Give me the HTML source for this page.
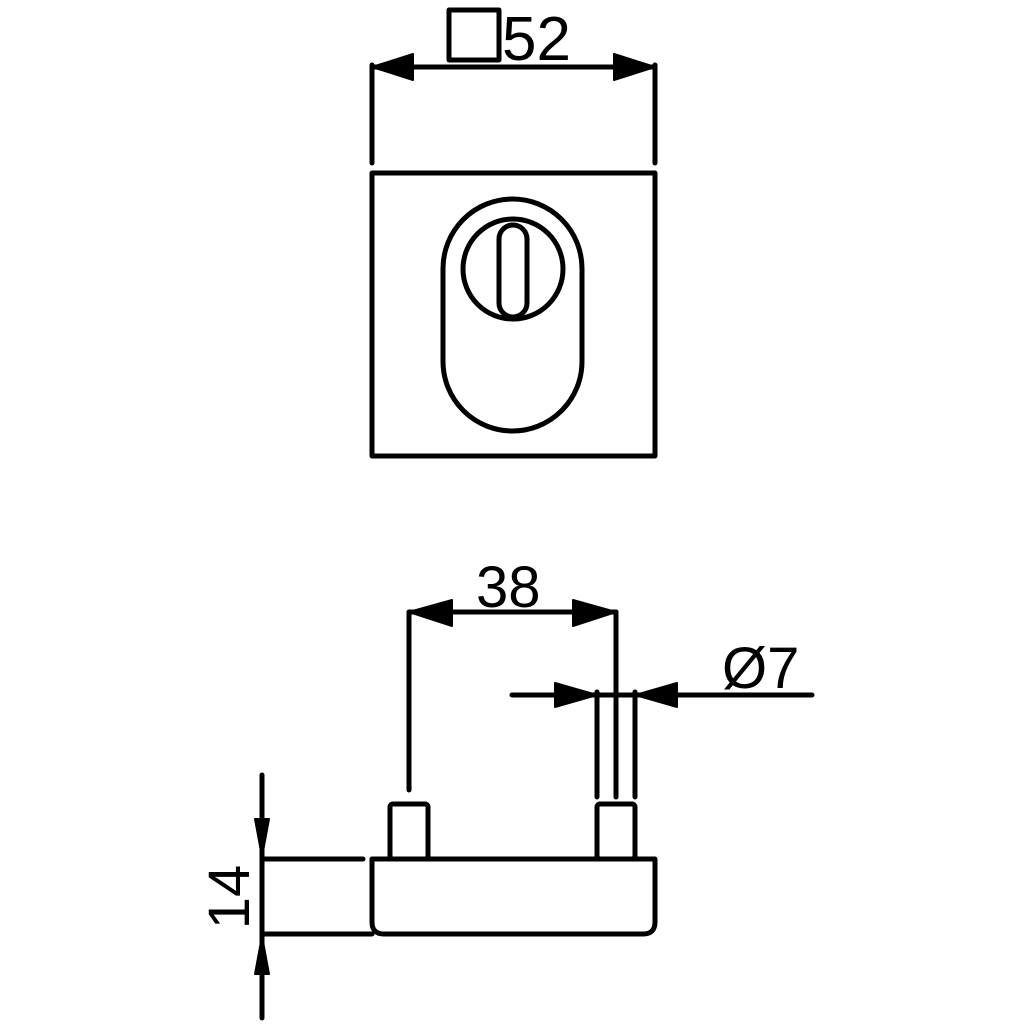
<!DOCTYPE html>
<html><head><style>html,body{margin:0;padding:0;background:#fff}svg{display:block}</style></head>
<body>
<svg width="1024" height="1024" viewBox="0 0 1024 1024" xmlns="http://www.w3.org/2000/svg">
<g fill="none" stroke="#000" stroke-width="5" stroke-linecap="round" stroke-linejoin="round">
<!-- top view -->
<line x1="372" y1="65" x2="372" y2="163"/>
<line x1="655" y1="65" x2="655" y2="163"/>
<line x1="372" y1="67" x2="655" y2="67"/>
<rect x="449" y="10" width="50" height="50"/>
<rect x="372" y="173" width="283" height="283"/>
<rect x="443" y="199" width="139" height="232" rx="69.5" ry="69.5"/>
<circle cx="513" cy="269" r="50"/>
<rect x="499" y="225" width="28" height="92" rx="14" ry="14"/>
<!-- bottom view -->
<line x1="409" y1="612" x2="409" y2="790"/>
<line x1="616" y1="612" x2="616" y2="797"/>
<line x1="409" y1="612" x2="616" y2="612"/>
<line x1="597" y1="692" x2="597" y2="797"/>
<line x1="635" y1="692" x2="635" y2="797"/>
<line x1="512" y1="695" x2="812" y2="695"/>
<rect x="390" y="804" width="38" height="55" rx="3"/>
<rect x="597" y="804" width="38" height="55" rx="3"/>
<path d="M372 859 H655 V922 Q655 934 643 934 H384 Q372 934 372 922 Z"/>
<path d="M363 859 H262 V934 H372"/>
<line x1="262" y1="775" x2="262" y2="859"/>
<line x1="262" y1="934" x2="262" y2="1018"/>
</g>
<g fill="#000" stroke="#000" stroke-width="2" stroke-linejoin="round">
<polygon points="372,67 413,54 413,80"/>
<polygon points="655,67 614,54 614,80"/>
<polygon points="409,612 452,600 452,626"/>
<polygon points="616,612 573,600 573,626"/>
<polygon points="597,695 555,683 555,707"/>
<polygon points="635,695 677,683 677,707"/>
<polygon points="262,857 255,819 269,819"/>
<polygon points="262,936 255,974 269,974"/>
</g>
<g font-family="Liberation Sans, sans-serif" fill="#000">
<text x="502" y="60" font-size="62">52</text>
<text x="476" y="607" font-size="58">38</text>
<text x="722" y="688" font-size="58">Ø7</text>
<text transform="translate(249,897) rotate(-90)" font-size="58" text-anchor="middle">14</text>
</g>
</svg>
</body></html>
